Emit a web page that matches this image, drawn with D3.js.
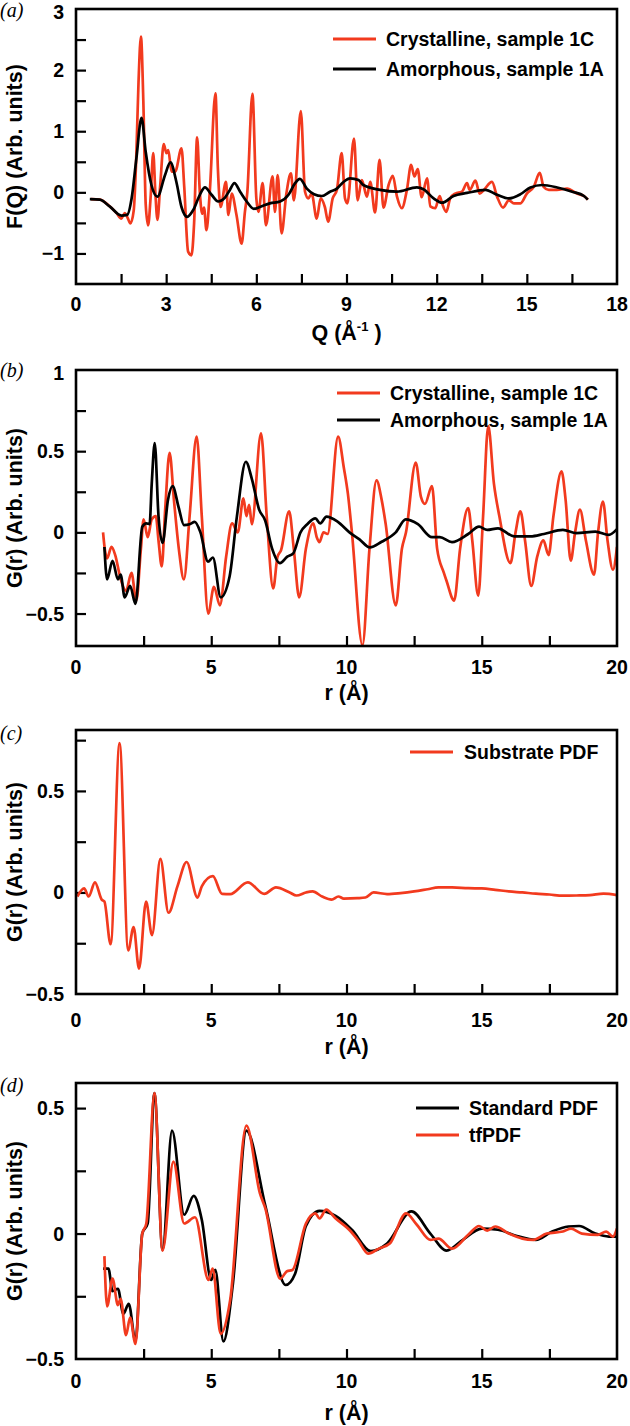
<!DOCTYPE html>
<html><head><meta charset="utf-8">
<script src="https://cdn.jsdelivr.net/npm/d3@7"></script>
<style>
body{margin:0;background:#fff;}
svg text{font-family:"Liberation Sans",Arial,Helvetica,sans-serif;font-weight:bold;fill:#000;}
</style></head>
<body>
<svg id="chart" width="630" height="1426"></svg>
<script>
// ---------- DATA ----------
// Panel (a): F(Q)
const crystFQ = [[0.5,-0.11],[0.8,-0.12],[1.1,-0.22],[1.35,-0.34],[1.51,-0.43],[1.62,-0.34],[1.72,-0.42],[1.81,-0.51],[1.92,-0.3],[2.0,0.5],[2.08,1.8],[2.16,2.55],[2.24,1.5],[2.32,-0.2],[2.4,-0.54],[2.48,-0.1],[2.57,0.64],[2.64,0.0],[2.71,-0.45],[2.8,0.1],[2.92,0.79],[3.01,0.64],[3.07,0.69],[3.18,0.34],[3.3,0.34],[3.51,0.72],[3.6,0.1],[3.73,-0.97],[3.84,-1.03],[3.93,-0.5],[4.03,0.9],[4.12,0.0],[4.2,-0.35],[4.26,-0.25],[4.34,-0.62],[4.45,0.0],[4.64,1.62],[4.72,0.4],[4.81,-0.24],[4.99,0.17],[5.07,-0.37],[5.18,-0.02],[5.34,-0.37],[5.51,-0.84],[5.62,-0.32],[5.7,0.0],[5.87,1.61],[6.0,-0.1],[6.07,-0.32],[6.21,0.15],[6.32,-0.54],[6.54,0.26],[6.62,-0.32],[6.71,0.28],[6.84,-0.67],[7.0,-0.02],[7.15,0.31],[7.25,-0.13],[7.48,1.33],[7.62,0.01],[7.73,-0.1],[7.84,-0.02],[8.01,-0.43],[8.14,-0.1],[8.28,-0.24],[8.39,-0.48],[8.54,-0.1],[8.68,0.04],[8.84,0.64],[8.95,-0.1],[9.03,-0.18],[9.25,0.88],[9.37,-0.13],[9.51,0.2],[9.68,-0.07],[9.79,0.17],[9.95,-0.33],[10.1,0.53],[10.23,-0.25],[10.4,0.12],[10.54,0.27],[10.68,-0.07],[10.84,-0.26],[11.01,0.04],[11.15,0.45],[11.26,0.26],[11.37,0.38],[11.5,-0.08],[11.68,0.23],[11.79,-0.23],[11.95,-0.26],[12.1,-0.06],[12.18,-0.18],[12.32,-0.32],[12.45,-0.1],[12.62,-0.02],[12.84,0.01],[13.01,0.15],[13.1,0.04],[13.29,0.19],[13.43,-0.02],[13.57,0.04],[13.84,0.17],[14.01,-0.07],[14.21,-0.25],[14.4,-0.13],[14.57,-0.18],[14.79,-0.18],[15.0,-0.02],[15.23,0.09],[15.43,0.32],[15.56,0.09],[15.73,0.04],[16.0,0.04],[16.34,0.06],[16.67,-0.02],[16.9,-0.06],[17.03,-0.12]];
const amorphFQ = [[0.46,-0.11],[0.79,-0.12],[1.12,-0.23],[1.51,-0.38],[1.7,-0.37],[1.85,-0.1],[2.01,0.56],[2.18,1.22],[2.32,0.66],[2.51,0.12],[2.71,-0.07],[2.96,0.28],[3.14,0.49],[3.34,0.17],[3.51,-0.24],[3.7,-0.4],[3.9,-0.29],[4.12,-0.04],[4.29,0.08],[4.51,-0.04],[4.73,-0.15],[4.95,-0.09],[5.12,0.04],[5.27,0.15],[5.46,0.01],[5.68,-0.15],[5.92,-0.27],[6.12,-0.24],[6.45,-0.18],[6.79,-0.15],[7.07,-0.04],[7.29,0.15],[7.45,0.22],[7.68,0.06],[7.92,-0.03],[8.18,-0.06],[8.45,0.01],[8.68,0.06],[8.9,0.17],[9.12,0.23],[9.4,0.2],[9.56,0.12],[10.12,0.04],[10.68,0.01],[11.34,0.08],[11.56,0.05],[11.9,-0.1],[12.18,-0.17],[12.56,-0.06],[13.01,-0.01],[13.62,0.04],[14.01,-0.04],[14.4,-0.1],[14.79,-0.03],[15.12,0.08],[15.51,0.12],[16.01,0.08],[16.51,0.01],[16.9,-0.06],[17.03,-0.12]];

// Panel (b): G(r)
const crystGr = [[1.0,0.0],[1.07,-0.11],[1.15,-0.16],[1.31,-0.09],[1.45,-0.14],[1.64,-0.28],[1.85,-0.36],[2.05,-0.25],[2.23,-0.42],[2.4,-0.1],[2.5,0.08],[2.65,-0.03],[2.8,0.08],[2.95,0.1],[3.05,-0.05],[3.17,-0.21],[3.3,0.15],[3.46,0.49],[3.62,0.2],[3.8,-0.1],[3.99,-0.29],[4.2,0.1],[4.46,0.59],[4.65,0.1],[4.89,-0.5],[5.1,-0.335],[5.32,-0.45],[5.55,-0.15],[5.77,0.055],[5.98,0.0],[6.19,0.21],[6.3,0.1],[6.4,0.17],[6.5,0.05],[6.84,0.61],[7.05,0.1],[7.29,-0.345],[7.45,-0.15],[7.58,-0.11],[7.88,0.13],[8.05,-0.1],[8.25,-0.4],[8.5,-0.1],[8.77,0.055],[8.9,-0.03],[9.0,-0.06],[9.15,0.0],[9.3,-0.01],[9.69,0.59],[9.9,0.4],[10.05,0.24],[10.2,0.0],[10.59,-0.695],[10.85,-0.1],[11.11,0.32],[11.3,0.2],[11.45,0.05],[11.82,-0.45],[12.05,-0.1],[12.2,0.0],[12.56,0.43],[12.75,0.22],[12.9,0.175],[13.16,0.285],[13.35,-0.1],[13.6,-0.25],[13.7,-0.3],[13.98,-0.42],[14.2,-0.1],[14.5,0.15],[14.65,-0.05],[14.87,-0.39],[15.05,0.1],[15.24,0.655],[15.45,0.3],[15.65,0.1],[16.06,-0.19],[16.25,0.0],[16.43,0.13],[16.6,-0.05],[16.83,-0.33],[17.05,-0.15],[17.28,-0.05],[17.47,-0.14],[17.65,0.1],[17.95,0.375],[18.1,0.2],[18.29,-0.175],[18.45,0.0],[18.63,0.14],[18.85,-0.05],[19.15,-0.26],[19.3,0.0],[19.48,0.19],[19.65,-0.05],[19.85,-0.23],[20.0,-0.09]];
const amorphGr = [[1.05,-0.09],[1.15,-0.29],[1.35,-0.175],[1.55,-0.29],[1.65,-0.26],[1.8,-0.4],[2.0,-0.33],[2.2,-0.44],[2.45,0.035],[2.6,0.055],[2.72,0.05],[2.8,0.3],[2.91,0.55],[3.05,0.1],[3.2,-0.065],[3.4,0.2],[3.57,0.285],[3.8,0.15],[3.99,0.045],[4.2,0.05],[4.39,0.065],[4.6,0.0],[4.88,-0.18],[5.06,-0.155],[5.35,-0.4],[5.68,-0.27],[5.95,0.1],[6.28,0.435],[6.5,0.33],[6.77,0.14],[6.99,0.075],[7.25,-0.1],[7.54,-0.19],[7.81,-0.15],[8.03,-0.13],[8.3,0.0],[8.55,0.05],[8.85,0.086],[9.03,0.055],[9.26,0.097],[9.67,0.066],[10.11,0.0],[10.48,-0.043],[10.86,-0.093],[11.3,-0.058],[11.82,0.0],[12.19,0.08],[12.64,0.05],[13.16,-0.03],[13.45,-0.03],[13.9,-0.06],[14.5,-0.01],[14.9,0.035],[15.2,0.015],[15.6,0.025],[16.2,-0.025],[16.8,-0.025],[17.3,-0.01],[18.0,0.015],[18.5,-0.005],[19.2,0.005],[19.7,-0.015],[20.0,0.02]];

// Panel (c): substrate G(r)
const substrateGr = [[0.05,-0.02],[0.3,0.02],[0.47,-0.02],[0.7,0.05],[0.95,-0.035],[1.05,-0.045],[1.28,-0.255],[1.61,0.735],[1.93,-0.285],[2.13,-0.17],[2.33,-0.375],[2.59,-0.045],[2.81,-0.21],[3.12,0.165],[3.42,-0.1],[3.75,0.03],[4.09,0.15],[4.49,-0.025],[4.65,0.03],[5.06,0.08],[5.4,-0.007],[5.7,-0.008],[6.35,0.05],[6.96,-0.007],[7.39,0.025],[7.9,0.0],[8.15,-0.015],[8.5,0.0],[8.75,0.005],[9.1,-0.02],[9.45,-0.035],[9.7,-0.02],[9.9,-0.03],[10.4,-0.028],[10.7,-0.025],[11.0,0.0],[11.5,-0.008],[12.0,-0.003],[12.5,0.005],[13.0,0.016],[13.4,0.025],[13.9,0.025],[14.5,0.021],[15.0,0.02],[15.5,0.013],[16.0,0.005],[16.5,0.0],[17.0,-0.006],[17.5,-0.01],[18.0,-0.016],[18.5,-0.015],[19.0,-0.013],[19.5,-0.006],[20.0,-0.013]];

// Panel (d): standard PDF vs tfPDF
const standardGr = [[1.0,-0.14],[1.2,-0.14],[1.35,-0.23],[1.55,-0.22],[1.75,-0.32],[1.95,-0.28],[2.2,-0.43],[2.45,0.0],[2.65,0.04],[2.9,0.56],[3.2,-0.065],[3.55,0.41],[4.0,0.075],[4.35,0.15],[4.65,0.055],[5.0,-0.185],[5.15,-0.145],[5.45,-0.43],[5.8,-0.2],[6.3,0.41],[7.0,0.11],[7.75,-0.205],[8.1,-0.16],[8.5,0.03],[9.0,0.09],[9.6,0.07],[10.2,0.015],[10.9,-0.07],[11.5,-0.04],[12.4,0.088],[13.1,0.0],[13.7,-0.068],[14.3,-0.025],[15.0,0.02],[15.6,0.015],[16.3,-0.01],[17.0,-0.025],[17.6,0.008],[18.2,0.028],[18.6,0.03],[19.2,0.0],[19.7,-0.012],[20.0,-0.012]];
const tfGr = [[1.05,-0.09],[1.15,-0.29],[1.35,-0.18],[1.55,-0.285],[1.65,-0.26],[1.85,-0.405],[2.0,-0.335],[2.2,-0.44],[2.45,0.0],[2.6,0.04],[2.9,0.56],[3.2,-0.068],[3.6,0.287],[4.0,0.04],[4.4,0.065],[4.9,-0.185],[5.05,-0.14],[5.35,-0.4],[5.7,-0.265],[6.3,0.43],[6.8,0.16],[7.0,0.1],[7.55,-0.18],[7.8,-0.15],[8.0,-0.145],[8.5,0.04],[8.85,0.08],[9.0,0.06],[9.25,0.095],[9.6,0.06],[10.1,0.015],[10.45,-0.03],[10.8,-0.08],[11.2,-0.06],[11.6,-0.04],[12.2,0.08],[12.6,0.035],[13.1,-0.025],[13.4,-0.02],[13.9,-0.06],[14.5,-0.005],[14.9,0.03],[15.2,0.012],[15.5,0.028],[16.0,0.0],[16.5,-0.02],[16.9,-0.025],[17.4,0.0],[18.0,0.008],[18.3,0.02],[18.7,0.0],[19.3,-0.005],[19.6,0.008],[19.85,-0.012],[20.0,0.02]];

// Tick labels
const aXLabels = [0,3,6,9,12,15,18];
const aYLabels = [-1,0,1,2,3];
const rXLabels = [0,5,10,15,20];
const bYLabels = [-0.5,0,0.5,1];
const cdYLabels = [-0.5,0,0.5];
const legendA = ["Crystalline, sample 1C","Amorphous, sample 1A"];
const legendC = ["Substrate PDF"];
const legendD = ["Standard PDF","tfPDF"];

// ---------- DRAWING ----------
const RED = "#f23a1e", BLACK = "#000";
const svg = d3.select("#chart");
const LEFT = 76, RIGHT = 617;
const TICK_FS = 19.5, LEG_FS = 19.5, TITLE_FS = 21.5;
const fmt = d => d < 0 ? "\u2212" + Math.abs(d) : String(d);

const panels = [
  {id:"a", top:9, bottom:284, xd:[0,18], yd:[-1.5,3], xMinor:d3.range(0,18.01,1.5), xLab:aXLabels,
   yMinor:d3.range(-1.5,3.01,0.5), yLab:aYLabels, xTitle:"Q", ytitle:"F(Q) (Arb. units)",
   labBase:311, titleBase:340, letterBase:17,
   series:[{d:crystFQ,c:RED},{d:amorphFQ,c:BLACK}],
   legend:{x1:333,x2:376,tx:386,items:[{t:legendA[0],c:RED,y:39},{t:legendA[1],c:BLACK,y:69}]}},
  {id:"b", top:370, bottom:646, xd:[0,20], yd:[-0.7,1], xMinor:d3.range(0,20.01,2.5), xLab:rXLabels,
   yMinor:d3.range(-0.5,1.01,0.25), yLab:bYLabels, xTitle:"r", ytitle:"G(r) (Arb. units)",
   labBase:674, titleBase:700, letterBase:377,
   series:[{d:crystGr,c:RED},{d:amorphGr,c:BLACK}],
   legend:{x1:337,x2:380,tx:390,items:[{t:legendA[0],c:RED,y:393},{t:legendA[1],c:BLACK,y:420}]}},
  {id:"c", top:730, bottom:994, xd:[0,20], yd:[-0.5,0.8], xMinor:d3.range(0,20.01,2.5), xLab:rXLabels,
   yMinor:d3.range(-0.5,0.76,0.25), yLab:cdYLabels, xTitle:"r", ytitle:"G(r) (Arb. units)",
   labBase:1027, titleBase:1054, letterBase:740,
   series:[{d:substrateGr,c:RED}],
   legend:{x1:410,x2:453,tx:464,items:[{t:legendC[0],c:RED,y:752}]}},
  {id:"d", top:1083, bottom:1359, xd:[0,20], yd:[-0.5,0.6], xMinor:d3.range(0,20.01,2.5), xLab:rXLabels,
   yMinor:d3.range(-0.5,0.51,0.25), yLab:cdYLabels, xTitle:"r", ytitle:"G(r) (Arb. units)",
   labBase:1388, titleBase:1420, letterBase:1092,
   series:[{d:standardGr,c:BLACK},{d:tfGr,c:RED}],
   legend:{x1:416,x2:459,tx:469,items:[{t:legendD[0],c:BLACK,y:1108},{t:legendD[1],c:RED,y:1135}]}}
];

panels.forEach(p => {
  const x = d3.scaleLinear().domain(p.xd).range([LEFT, RIGHT]);
  const y = d3.scaleLinear().domain(p.yd).range([p.bottom, p.top]);
  const g = svg.append("g");

  const cid = "clip-" + p.id;
  svg.append("clipPath").attr("id", cid).append("rect")
    .attr("x", LEFT).attr("y", p.top).attr("width", RIGHT-LEFT).attr("height", p.bottom-p.top);

  // inward ticks via d3 axes
  const xa = g.append("g").attr("transform", `translate(0,${p.bottom})`)
    .call(d3.axisBottom(x).tickValues(p.xMinor.filter(v => v>p.xd[0]+1e-6 && v<p.xd[1]-1e-6)).tickSize(-10).tickFormat(""));
  const ya = g.append("g").attr("transform", `translate(${LEFT},0)`)
    .call(d3.axisLeft(y).tickValues(p.yMinor.filter(v => v>p.yd[0]+1e-6 && v<p.yd[1]-1e-6)).tickSize(-10).tickFormat(""));
  [xa, ya].forEach(a => { a.select(".domain").remove(); a.selectAll("line").attr("stroke","#000").attr("stroke-width",2.2); });

  // tick labels
  g.selectAll(".xl").data(p.xLab).join("text")
    .attr("x", d => x(d)).attr("y", p.labBase).attr("text-anchor","middle")
    .attr("font-size", TICK_FS).text(fmt);
  g.selectAll(".yl").data(p.yLab).join("text")
    .attr("x", LEFT - 12).attr("y", d => Math.max(y(d), p.top + 3)).attr("dy","0.36em").attr("text-anchor","end")
    .attr("font-size", TICK_FS).text(fmt);

  // series
  const line = d3.line().x(d => x(d[0])).y(d => y(d[1])).curve(d3.curveMonotoneX);
  p.series.forEach(s => {
    g.append("path").datum(s.d).attr("clip-path", `url(#${cid})`)
      .attr("d", line).attr("fill","none").attr("stroke", s.c)
      .attr("stroke-width", 2.7).attr("stroke-linejoin","round");
  });

  // frame
  g.append("rect").attr("x", LEFT).attr("y", p.top).attr("width", RIGHT-LEFT).attr("height", p.bottom-p.top)
    .attr("fill","none").attr("stroke","#000").attr("stroke-width",2.6);

  // x title
  const xt = g.append("text").attr("x", (LEFT+RIGHT)/2).attr("y", p.titleBase)
    .attr("text-anchor","middle").attr("font-size", TITLE_FS);
  if (p.xTitle === "Q") {
    xt.append("tspan").text("Q (\u00C5");
    xt.append("tspan").attr("dy", -9).attr("font-size", 13).text("-1");
    xt.append("tspan").attr("dy", 9).text(" )");
  } else {
    xt.text("r (\u00C5)");
  }

  // y title
  g.append("text").attr("transform", `translate(14,${(p.top+p.bottom)/2}) rotate(-90)`)
    .attr("text-anchor","middle").attr("dy","0.36em").attr("font-size", TITLE_FS).text(p.ytitle);

  // panel letter
  g.append("text").attr("x", 0).attr("y", p.letterBase)
    .style("font-family", "'Liberation Serif','Times New Roman',serif").style("font-weight","normal")
    .style("font-style","italic").attr("font-size", 20).text(`(${p.id})`);

  // legend
  p.legend.items.forEach(it => {
    g.append("line").attr("x1", p.legend.x1).attr("x2", p.legend.x2).attr("y1", it.y).attr("y2", it.y)
      .attr("stroke", it.c).attr("stroke-width", 2.8);
    g.append("text").attr("x", p.legend.tx).attr("y", it.y).attr("dy","0.35em")
      .attr("font-size", LEG_FS).text(it.t);
  });
});
</script>
</body></html>
